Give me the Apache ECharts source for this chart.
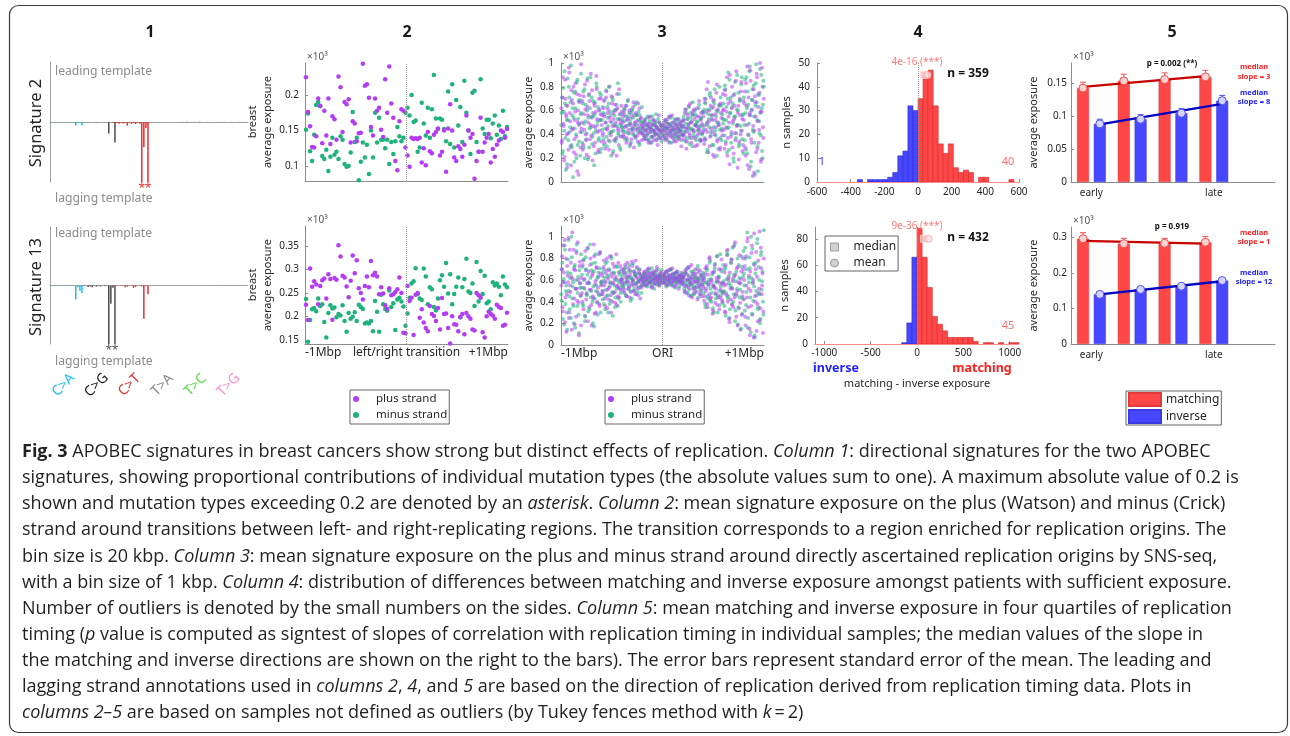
<!DOCTYPE html>
<html><head><meta charset="utf-8">
<script src="https://cdn.jsdelivr.net/npm/echarts@6/dist/echarts.min.js"></script>
<style>html,body{margin:0;padding:0;background:#fff}#c{width:1290px;height:736px}</style>
</head><body><div id="c"></div>
<script>
// ================= DATA =================
const mutationTypes = ['C>A','C>G','C>T','T>A','T>C','T>G'];
const bases = ['A','C','G','T'];
// directional signature profiles (96 types, negative = lagging template)
const sig2Profile = [
 -0.001,0,-0.001,0,-0.001,0,0,-0.001,0,-0.001,0,0,-0.012,-0.004,-0.002,-0.012,
 0,0,-0.001,0,0,0,-0.001,0,0,0,0,0,-0.038,0,-0.002,-0.068,
 -0.003,-0.006,-0.002,-0.005,-0.003,-0.012,-0.002,-0.006,-0.004,-0.007,-0.003,-0.006,-0.26,-0.083,-0.02,-0.26,
 0,-0.001,0,0,-0.001,0,0,0,0,-0.001,0,0,-0.002,0,0,-0.001,
 0.001,0,0.002,0,0,0.001,0,0,0.002,0,0,0,0.001,0,0,0,
 0,0.001,0,0,0.001,0,0,0.001,0,0,0,0.001,0,0,0.001,0
];
const sig13Profile = [
 -0.002,-0.001,0,-0.001,-0.001,0,-0.001,0,-0.002,0,-0.001,0,-0.048,-0.005,-0.018,-0.026,
 -0.001,0,-0.005,-0.003,-0.006,0,-0.004,-0.002,-0.003,0,-0.002,-0.001,-0.26,-0.062,-0.008,-0.26,
 -0.001,0,-0.002,0,-0.006,-0.004,0,-0.001,-0.008,-0.005,0,-0.001,-0.003,-0.114,-0.002,-0.03,
 0,-0.001,0,0,0,-0.001,0,0,-0.001,0,0,0,-0.001,0,0,0,
 0,0.001,0,0,0,0,0.001,0,0,0,0.001,0,0,0,0,0.001,
 0,0,0.001,0,0,0,0,0.001,0,0,0,0,0.001,0,0,0
];

// column 2: exposure per 20 kbp bin, -1Mbp .. +1Mbp (100 bins)
const p2Sig2Plus = [225,176,156,127,126,142,195,185,132,178,143,195,131,170,166,137,226,211,148,190,187,194,133,163,160,135,146,147,244,213,215,196,155,143,195,178,182,151,141,222,175,240,188,168,107,94,163,180,178,126,
 115,99,140,138,139,138,140,105,125,101,148,121,118,144,148,153,115,120,150,92,153,187,150,112,107,128,124,113,130,171,150,140,145,82,107,120,168,120,133,140,145,105,124,113,130,136,150,148,140,152];
const p2Sig2Minus = [151,174,121,107,144,186,190,184,114,110,123,93,113,140,116,120,110,142,137,103,99,100,119,176,134,140,80,106,133,112,130,89,150,112,175,133,168,137,137,125,137,103,134,117,135,155,142,135,140,175,
 182,171,200,162,164,120,126,189,160,143,182,140,180,228,167,152,167,165,152,135,205,131,215,126,193,157,183,134,220,175,150,117,203,206,134,120,222,153,145,165,165,139,160,171,144,157,138,178,142,155];
const p2Sig13Plus = [225,192,302,263,275,268,226,265,277,281,238,290,280,193,282,278,352,328,287,283,264,241,276,330,292,320,260,250,236,265,285,262,318,288,293,285,247,262,249,224,216,260,245,247,252,258,283,250,165,164,
 265,233,240,160,246,250,197,215,187,175,168,222,205,201,190,218,172,239,205,206,175,142,200,183,182,168,198,205,162,207,200,195,172,170,250,245,240,166,155,200,210,205,202,195,225,220,218,180,182,208];
const p2Sig13Minus = [237,146,192,215,218,211,238,222,226,188,155,207,224,217,219,198,205,202,224,190,167,207,195,199,209,190,225,220,216,185,187,185,190,168,233,210,167,246,226,216,212,255,220,228,171,236,240,232,221,180,
 206,240,270,275,303,248,238,235,302,285,226,262,258,220,213,238,277,288,263,314,249,290,226,248,263,283,198,262,280,323,253,250,270,222,316,232,297,248,287,228,232,215,273,266,270,263,245,285,268,262];
const p2TickLabels = ['-1Mbp','left/right transition','+1Mbp'];

// column 3: exposure (x 0.01 of 10^3) around SNS-seq origins, -1Mbp .. +1Mbp (two interleaved passes)
const p3Sig2Plus = [62,35,88,47,21,70,55,12,41,96,58,30,77,44,66,25,52,83,38,9,60,48,73,29,
 45,68,31,57,82,40,23,63,50,74,36,91,54,18,47,66,33,59,78,42,27,61,52,70,
 48,39,62,55,28,71,44,58,35,80,51,42,66,24,53,47,60,37,74,45,31,57,49,64,
 43,55,38,61,47,33,52,69,41,49,58,36,45,63,29,50,44,56,39,66,48,42,53,35,
 41,47,36,52,44,39,49,33,45,55,42,38,48,35,43,51,40,46,31,44,50,37,42,47,
 44,38,50,35,46,41,53,39,33,48,43,56,37,45,40,52,34,47,42,49,38,44,30,51,
 47,36,58,42,28,53,45,64,39,50,33,57,44,61,37,48,55,31,46,68,41,52,35,59,
 55,32,67,44,78,49,25,60,38,71,53,42,63,21,57,46,82,36,50,65,29,58,43,74,
 61,28,73,46,88,37,55,15,68,42,80,51,24,64,35,93,48,58,19,70,40,84,53,31,
 52,76,22,64,97,40,11,58,85,33,69,47,8,72,55,91,28,63,44,100,17,59,80,37];
const p3Sig2PlusB = [33,71,49,18,86,57,40,64,27,92,51,14,69,45,80,36,59,23,74,50,6,67,42,99,
 50,27,72,44,61,35,85,56,21,68,48,39,77,58,30,64,46,89,53,25,70,43,57,34,
 56,41,68,33,50,76,45,61,27,54,39,72,47,58,35,65,50,22,62,43,78,52,38,59,
 50,40,57,46,64,37,53,44,60,32,48,55,42,67,47,38,58,51,34,45,62,41,54,48,
 45,39,50,43,36,48,41,54,46,33,44,49,38,52,42,47,35,45,40,56,43,37,48,44,
 40,47,43,52,37,45,49,42,55,38,46,41,50,34,44,48,39,53,45,36,42,50,47,40,
 52,39,61,45,34,56,48,41,66,50,37,59,43,53,30,47,62,40,55,44,35,58,49,42,
 47,70,36,59,42,84,51,30,64,45,56,23,69,40,52,75,34,61,48,27,66,54,39,60,
 44,77,32,59,22,66,50,90,38,62,29,73,53,41,85,47,12,64,34,56,76,43,26,68,
 66,29,83,48,14,71,56,94,36,61,5,78,43,67,25,88,51,33,75,59,19,96,46,70];
const p3Sig2Minus = [48,71,26,59,93,37,64,15,52,80,42,67,31,56,4,75,45,62,20,86,53,34,69,57,
 58,33,76,49,20,65,41,87,54,29,62,46,71,38,55,14,67,43,80,51,35,60,25,73,
 52,63,36,57,45,77,30,54,66,41,59,22,50,69,43,56,34,61,47,83,39,53,27,48,
 46,38,59,51,42,64,35,55,48,30,53,44,60,40,57,49,37,67,45,52,33,56,43,50,
 45,40,51,38,47,43,55,36,49,42,46,33,52,44,39,48,57,41,45,37,50,43,47,40,
 42,48,37,45,51,40,46,34,49,43,54,39,44,47,36,50,41,45,38,53,43,48,35,46,
 40,52,46,34,58,43,49,63,37,54,45,30,56,42,60,48,38,51,44,65,36,53,47,41,
 44,61,35,70,50,27,57,46,75,39,62,52,31,66,43,55,22,59,48,80,37,64,45,53,
 66,39,78,52,25,70,46,86,58,33,63,49,17,74,55,41,90,60,30,68,47,82,36,57,
 71,35,58,88,24,65,49,97,13,60,78,42,55,6,83,67,30,74,51,95,39,62,20,85];
const p3Sig2MinusB = [58,24,79,43,66,10,52,87,35,71,46,98,29,62,54,17,76,40,84,31,68,49,22,91,
 42,66,29,78,51,36,60,19,73,45,88,55,32,68,41,57,24,83,48,63,37,75,52,28,
 44,58,31,69,50,38,63,47,80,34,56,42,71,26,60,48,36,65,53,41,74,29,57,46,
 52,43,62,36,55,47,68,41,58,50,33,61,45,54,39,65,48,56,42,59,31,51,46,63,
 42,49,37,53,44,40,47,35,51,45,38,55,43,48,41,50,36,46,53,39,44,48,34,47,
 46,39,52,43,36,49,45,55,41,47,33,50,44,38,53,42,48,37,45,51,40,47,43,39,
 55,42,49,61,37,53,46,32,58,44,51,67,39,48,57,35,50,43,62,47,34,54,40,59,
 58,37,66,48,25,61,53,73,42,56,31,68,46,78,39,60,50,28,64,44,71,35,57,49,
 52,81,34,63,45,92,27,58,71,40,66,20,55,84,37,61,48,75,32,69,43,88,56,24,
 48,86,27,62,76,39,93,56,17,69,44,81,33,64,99,52,9,73,41,58,90,26,65,80];
const p3Sig13Plus = [55,82,31,67,97,44,12,73,58,25,88,49,63,104,38,70,19,52,85,41,60,9,77,46,
 62,40,78,53,27,69,47,90,58,35,74,51,18,66,43,82,56,30,71,49,63,38,86,55,
 59,47,72,55,36,66,80,51,42,69,57,30,63,75,48,60,39,84,54,45,67,52,73,58,
 61,54,70,48,65,58,76,52,63,44,68,57,73,60,50,66,78,55,62,46,69,59,64,53,
 62,58,67,55,64,60,70,57,63,66,59,53,65,61,68,56,62,72,60,64,57,66,63,59,
 61,65,57,63,68,59,55,64,60,70,58,62,66,54,63,60,67,57,61,52,64,59,62,56,
 58,64,50,67,55,71,60,46,62,56,74,52,63,48,59,66,54,42,61,57,69,51,45,60,
 54,41,66,50,73,35,58,47,78,44,60,29,55,68,39,52,82,46,62,33,57,70,42,49,
 48,67,30,56,83,40,62,21,52,76,37,59,91,44,65,26,50,72,34,57,14,68,45,80,
 42,73,18,55,96,35,64,9,50,85,28,60,103,45,70,13,38,78,52,23,90,47,66,31];
const p3Sig13PlusB = [70,35,92,58,21,80,47,64,99,30,55,76,14,61,88,43,69,26,52,95,39,73,57,18,
 48,74,33,61,87,42,57,22,68,51,80,37,64,45,93,29,59,72,40,53,84,36,66,47,
 64,50,78,43,58,69,34,61,53,82,46,66,40,57,72,49,63,37,55,76,44,60,51,70,
 57,67,51,74,62,45,59,71,54,65,49,77,60,56,68,47,63,72,52,58,66,43,61,55,
 64,59,68,62,56,66,61,71,58,63,54,67,60,65,57,62,69,59,64,55,61,67,58,63,
 58,64,61,67,56,62,69,60,65,57,63,71,59,61,66,55,62,68,60,64,58,63,59,66,
 62,55,69,48,60,65,53,72,57,61,44,66,58,52,70,63,49,59,67,54,47,64,56,62,
 60,45,71,52,38,65,56,81,43,58,67,32,54,74,48,62,37,59,70,44,51,79,40,57,
 55,31,74,46,88,60,24,67,42,79,52,35,63,95,47,71,18,58,83,39,61,28,49,70,
 60,26,82,44,99,52,15,68,36,92,57,7,74,40,86,63,22,48,105,34,71,55,11,80];
const p3Sig13Minus = [47,70,24,61,92,38,55,14,79,50,33,66,100,43,58,20,74,52,87,36,63,11,57,45,
 53,72,36,60,22,81,48,65,31,57,93,44,69,40,54,17,76,50,61,28,67,46,85,58,
 56,42,70,62,33,51,77,46,64,38,58,82,49,27,67,55,44,73,60,36,53,65,48,61,
 60,49,67,56,72,45,63,58,52,69,41,62,55,75,50,64,57,47,66,59,53,70,61,48,
 60,65,56,63,59,68,54,62,66,58,61,71,57,64,52,60,67,63,58,62,55,65,61,69,
 63,58,66,61,54,68,60,64,57,62,70,56,65,59,63,53,61,66,58,64,60,57,67,62,
 57,63,49,66,54,60,72,51,58,45,64,56,68,47,61,53,59,70,44,62,55,50,65,58,
 52,64,38,58,71,45,55,80,41,61,48,34,67,53,75,43,59,30,63,50,84,46,57,39,
 59,36,72,48,87,43,64,25,55,79,38,61,47,93,32,68,52,19,74,44,57,82,29,63,
 66,32,80,49,104,25,58,71,12,62,89,41,54,7,76,46,98,35,60,20,83,51,68,28];
const p3Sig13MinusB = [41,76,58,19,88,50,30,67,97,45,62,25,81,54,36,72,16,60,93,48,28,69,53,84,
 65,38,79,52,26,70,46,89,57,33,62,50,75,20,68,43,84,55,39,63,47,71,30,58,
 50,67,38,59,75,45,63,30,70,54,41,80,57,48,66,35,61,52,72,43,58,68,40,55,
 64,53,70,58,46,67,61,55,74,50,62,43,59,68,52,65,57,71,49,60,66,54,63,56,
 62,58,66,61,55,64,59,69,57,63,60,54,67,62,58,65,61,56,70,59,63,57,64,60,
 60,65,58,62,67,56,63,59,69,61,55,64,60,66,57,62,68,59,63,54,61,65,58,63,
 60,52,66,57,70,48,63,55,59,68,46,61,54,65,50,62,57,73,53,60,47,64,56,67,
 48,62,35,57,69,43,60,76,52,40,65,55,30,71,47,58,82,44,63,37,54,68,49,74,
 50,70,27,61,84,45,57,33,76,53,90,40,65,22,59,46,80,35,62,51,15,72,43,87,
 55,90,37,70,16,62,81,44,100,29,58,75,9,66,50,94,33,72,47,24,86,59,40,106];
const p3TickLabels = ['-1Mbp','ORI','+1Mbp'];

// column 4: histograms of matching - inverse exposure
const p4Sig2BinStart = -600, p4Sig2BinWidth = 30;
const p4Sig2Counts = [0,0,0,0,0,0,0,0,1,0, 1,1,1,1,2,4,11,13,32,30, 35,44,47,32,16,12,16,6,4,5, 4,0,2,2,0,0,0,0,1,0];
const p4Sig13BinStart = -1100, p4Sig13BinWidth = 55;
const p4Sig13Counts = [0,0,0,0,0,0,0,0,0,0, 0,0,0,0,0,0,0,1,16,66, 88,66,43,21,15,10,5,5,5,5, 5,2,0,1,1,0,1,0,1,1];
const p4Medians = [36, 75];
const p4Means = [57, 125];
const p4MarkerHeights = [45, 80];
const p4PValues = ['4e-16 (***)', '9e-36 (***)'];
const p4SampleCounts = ['n = 359', 'n = 432'];
const p4OutliersLeft = ['1', ''];
const p4OutliersRight = ['40', '45'];

// column 5: exposure in replication timing quartiles
const timingLabels = ['early','','','late',''];
const p5Sig2Matching = [142,153,155,159];
const p5Sig2MatchingErr = [9,10,10,10];
const p5Sig2Inverse = [88,95,104,123];
const p5Sig2InverseErr = [7,7,7,8];
const p5Sig2FitMatching = [144,160];
const p5Sig2FitInverse = [87,118];
const p5Sig13Matching = [297,283,284,287];
const p5Sig13MatchingErr = [17,15,14,16];
const p5Sig13Inverse = [140,154,163,179];
const p5Sig13InverseErr = [5,5,5,5];
const p5Sig13FitMatching = [291,283];
const p5Sig13FitInverse = [140,177];
const p5PValues = ['p = 0.002 (**)', 'p = 0.919'];
const p5SlopesMatching = ['slope = 3', 'slope = 1'];
const p5SlopesInverse = ['slope = 8', 'slope = 12'];

const captionLines = [
 '{b|Fig. 3} APOBEC signatures in breast cancers show strong but distinct effects of replication. {i|Column 1}: directional signatures for the two APOBEC',
 'signatures, showing proportional contributions of individual mutation types (the absolute values sum to one). A maximum absolute value of 0.2 is',
 'shown and mutation types exceeding 0.2 are denoted by an {i|asterisk}. {i|Column 2}: mean signature exposure on the plus (Watson) and minus (Crick)',
 'strand around transitions between left- and right-replicating regions. The transition corresponds to a region enriched for replication origins. The',
 'bin size is 20 kbp. {i|Column 3}: mean signature exposure on the plus and minus strand around directly ascertained replication origins by SNS-seq,',
 'with a bin size of 1 kbp. {i|Column 4}: distribution of differences between matching and inverse exposure amongst patients with sufficient exposure.',
 'Number of outliers is denoted by the small numbers on the sides. {i|Column 5}: mean matching and inverse exposure in four quartiles of replication',
 'timing ({i|p} value is computed as signtest of slopes of correlation with replication timing in individual samples; the median values of the slope in',
 'the matching and inverse directions are shown on the right to the bars). The error bars represent standard error of the mean. The leading and',
 'lagging strand annotations used in {i|columns 2}, {i|4}, and {i|5} are based on the direction of replication derived from replication timing data. Plots in',
 '{i|columns 2\u20135} are based on samples not defined as outliers (by Tukey fences method with {i|k}\u2009=\u20092)'
];

// ================= STYLE / LAYOUT =================
const FONT = 'Noto Sans';
const CAPFONT = 'Open Sans';
const AX = '#8c8c8c';
const TXT = '#262626';
const PLUS = '#b53cf5', MINUS = '#1fb27b';
const RED = '#ff4747', BLUE = '#4747ff';
const typeColors = ['#1ebff0','#4a4a4a','#ee2c2c','#a8a8a8','#7bd862','#f5a0c8'];
const typeLabelColors = ['#1ebff0','#1a1a1a','#ee2c2c','#8a8a8a','#56e04a','#ff8fd0'];
const grids = [
 {left:50,top:62,width:198,height:120},
 {left:50,top:227,width:198,height:117},
 {left:305,top:63,width:203,height:118},
 {left:305,top:226,width:203,height:118},
 {left:561,top:63,width:203,height:119},
 {left:561,top:226,width:203,height:119},
 {left:817,top:63,width:202,height:119},
 {left:815,top:227,width:204,height:117},
 {left:1071,top:63,width:204,height:119},
 {left:1071,top:227,width:204,height:117}
];
const BARW = 12, BARGAP = 0.4, OFF = BARW * (1 + BARGAP) / 2;

const contexts = [];
mutationTypes.forEach(t => bases.forEach(a => bases.forEach(b => contexts.push(a + '[' + t + ']' + b))));

// ================= AXES =================
const xAxes = [], yAxes = [];
function lbl(o){ return Object.assign({color:TXT, fontFamily:FONT, fontSize:10}, o); }
[0,1].forEach(g => {
  xAxes.push({type:'category', gridIndex:g, data:contexts, axisLine:{show:true, onZero:true, lineStyle:{color:'#a0a0a0'}}, axisTick:{show:false}, axisLabel:{show:false}, splitLine:{show:false}});
  yAxes.push({type:'value', gridIndex:g, min:-0.2, max:0.2, axisLine:{show:true, lineStyle:{color:'#a0a0a0'}}, axisTick:{show:false}, axisLabel:{show:false}, splitLine:{show:false}});
});
function yVal(g, min, max, ticks, fmt, name, gap, margin){
  return {type:'value', gridIndex:g, min, max,
    axisLine:{show:true, onZero:false, lineStyle:{color:AX}},
    axisTick:{show:true, inside:true, length:3, customValues:ticks, lineStyle:{color:AX}},
    axisLabel:lbl({customValues:ticks, formatter:fmt, margin}),
    splitLine:{show:false},
    name, nameLocation:'middle', nameGap:gap,
    nameTextStyle:{fontFamily:FONT, fontSize:11, color:TXT, lineHeight:15}};
}
const f1000 = v => String(v/1000), f100 = v => String(v/100), fPlain = v => String(v);
[2,3].forEach(g => {
  const bottom = g === 3;
  xAxes.push({type:'value', gridIndex:g, min:-1, max:1,
    axisLine:{show:true, onZero:false, lineStyle:{color:AX}}, axisTick:{show:false}, splitLine:{show:false},
    axisLabel: bottom ? lbl({customValues:[-1,0,1], formatter:v => p2TickLabels[Math.round(v)+1], alignMinLabel:'left', alignMaxLabel:'right', fontSize:12, margin:3}) : {show:false}});
});
yAxes.push(yVal(2, 79, 245, [100,150,200], f1000, 'breast\naverage exposure', 28, 6));
yAxes.push(yVal(3, 141, 393, [150,200,250,300,350], f1000, 'breast\naverage exposure', 28, 6));
[4,5].forEach(g => {
  const bottom = g === 5;
  xAxes.push({type:'value', gridIndex:g, min:-1, max:1,
    axisLine:{show:true, onZero:false, lineStyle:{color:AX}}, axisTick:{show:false}, splitLine:{show:false},
    axisLabel: bottom ? lbl({customValues:[-1,0,1], formatter:v => p3TickLabels[Math.round(v)+1], alignMinLabel:'left', alignMaxLabel:'right', fontSize:12, margin:3}) : {show:false}});
});
yAxes.push(yVal(4, 0, 100, [0,20,40,60,80,100], f100, 'average exposure', 24, 7));
yAxes.push(yVal(5, 0, 110, [0,20,40,60,80,100], f100, 'average exposure', 24, 7));
xAxes.push({type:'value', gridIndex:6, min:-600, max:600, interval:200,
  axisLine:{show:true, onZero:false, lineStyle:{color:AX}}, axisTick:{show:true, inside:true, length:3, lineStyle:{color:AX}},
  axisLabel:lbl({margin:5, formatter:fPlain}), splitLine:{show:false}});
xAxes.push({type:'value', gridIndex:7, min:-1100, max:1100,
  axisLine:{show:true, onZero:false, lineStyle:{color:AX}}, axisTick:{show:true, inside:true, length:3, customValues:[-1000,-500,0,500,1000], lineStyle:{color:AX}},
  axisLabel:lbl({customValues:[-1000,-500,0,500,1000], margin:4, formatter:fPlain}), splitLine:{show:false}});
yAxes.push(yVal(6, 0, 50, [0,10,20,30,40,50], fPlain, 'n samples', 21, 7));
yAxes.push(yVal(7, 0, 89, [0,20,40,60,80], fPlain, 'n samples', 19, 7));
[8,9].forEach(g => {
  xAxes.push({type:'category', gridIndex:g, data:timingLabels,
    axisLine:{show:true, lineStyle:{color:AX}}, axisTick:{show:false}, splitLine:{show:false},
    axisLabel:lbl({interval:0, margin:6})});
});
yAxes.push(yVal(8, 0, 180, [0,50,100,150], f1000, 'average exposure', 30, 4));
yAxes.push(yVal(9, 0, 330, [0,100,200,300], f1000, 'average exposure', 30, 4));

// ================= SERIES =================
const series = [];
[[sig2Profile,0,'#ee2c2c'],[sig13Profile,1,'#555555']].forEach(([prof, g, starColor]) => {
  series.push({type:'bar', xAxisIndex:g, yAxisIndex:g, barWidth:1.5, silent:true,
    data: prof.map((v,i) => ({value:v, itemStyle:{color:typeColors[Math.floor(i/16)]}}))});
  series.push({type:'custom', xAxisIndex:g, yAxisIndex:g, silent:true, clip:false,
    data: prof.map((v,i) => [i, v]).filter(d => d[1] < -0.2),
    renderItem(p, api){
      const c = api.coord([api.value(0), -0.2]);
      return {type:'text', x:c[0], y:c[1] + 7, style:{text:'*', fill:starColor, fontSize:12, fontFamily:FONT, textAlign:'center', textVerticalAlign:'middle'}};
    }});
});
function binX(i, n, shift){ return -1 + 2 * (i + shift) / n; }
function scatter(name, arr, g, color, size, opacity, withLine, shift){
  const s = {type:'scatter', name, xAxisIndex:g, yAxisIndex:g, symbol:'circle', symbolSize:size, silent:true,
    itemStyle:{color, opacity}, data: arr.map((v,i) => [binX(i, arr.length, shift), v])};
  if (withLine) s.markLine = {silent:true, symbol:['none','none'], label:{show:false}, animation:false,
    lineStyle:{type:'dotted', color:'#9a9a9a', width:1}, data:[{xAxis:0}]};
  return s;
}
series.push(scatter('minus strand', p2Sig2Minus, 2, MINUS, 4.5, 1, true, 0.5));
series.push(scatter('plus strand', p2Sig2Plus, 2, PLUS, 4.5, 1, false, 0.5));
series.push(scatter('minus strand', p2Sig13Minus, 3, MINUS, 4.5, 1, true, 0.5));
series.push(scatter('plus strand', p2Sig13Plus, 3, PLUS, 4.5, 1, false, 0.5));
const P3S = 4, P3O = 0.55;
series.push(scatter('minus strand', p3Sig2Minus, 4, MINUS, P3S, P3O, true, 0.25));
series.push(scatter('plus strand', p3Sig2Plus, 4, PLUS, P3S, P3O, false, 0.25));
series.push(scatter('minus strand', p3Sig2MinusB, 4, MINUS, P3S, P3O, false, 0.75));
series.push(scatter('plus strand', p3Sig2PlusB, 4, PLUS, P3S, P3O, false, 0.75));
series.push(scatter('minus strand', p3Sig13Minus, 5, MINUS, P3S, P3O, true, 0.25));
series.push(scatter('plus strand', p3Sig13Plus, 5, PLUS, P3S, P3O, false, 0.25));
series.push(scatter('minus strand', p3Sig13MinusB, 5, MINUS, P3S, P3O, false, 0.75));
series.push(scatter('plus strand', p3Sig13PlusB, 5, PLUS, P3S, P3O, false, 0.75));
function hist(g, counts, start, width){
  return {type:'custom', xAxisIndex:g, yAxisIndex:g, silent:true,
    data: counts.map((c,i) => [start + i*width, start + (i+1)*width, c]).filter(d => d[2] > 0),
    encode:{x:[0,1], y:2},
    renderItem(p, api){
      const s = api.value(0), e = api.value(1), c = api.value(2);
      const a = api.coord([s, c]), b = api.coord([e, 0]);
      const neg = e <= 0;
      return {type:'rect', shape:{x:a[0], y:a[1], width:b[0]-a[0], height:b[1]-a[1]},
        style:{fill: neg ? BLUE : RED, stroke: neg ? '#2a2ad0' : '#d02a2a', lineWidth:0.6}};
    }};
}
series.push(hist(6, p4Sig2Counts, p4Sig2BinStart, p4Sig2BinWidth));
series.push(hist(7, p4Sig13Counts, p4Sig13BinStart, p4Sig13BinWidth));
[6,7].forEach((g,k) => {
  series.push({type:'scatter', name:'median', xAxisIndex:g, yAxisIndex:g, symbol:'rect', symbolSize:7, silent:true, z:5,
    itemStyle:{color:'#f7b9b9', borderColor:'#ffe0e0', borderWidth:1},
    data:[[p4Medians[k], p4MarkerHeights[k]]],
    markLine:{silent:true, symbol:['none','none'], label:{show:false}, animation:false,
      data:[{xAxis:0, lineStyle:{type:'dotted', color:'#9a9a9a', width:1}}, {yAxis:0, lineStyle:{type:'solid', color:'#ff8a8a', width:1}}]}});
  series.push({type:'scatter', name:'mean', xAxisIndex:g, yAxisIndex:g, symbol:'circle', symbolSize:7, silent:true, z:5,
    itemStyle:{color:'#ffdede', borderColor:'#f7a5a5', borderWidth:1},
    data:[[p4Means[k], p4MarkerHeights[k]]]});
});
function fit(g, f, side, color){
  return {type:'custom', xAxisIndex:g, yAxisIndex:g, silent:true, z:4,
    data:[[0, f[0], 3, f[1]]], encode:{x:[0,2], y:[1,3]},
    renderItem(p, api){
      const a = api.coord([api.value(0), api.value(1)]), b = api.coord([api.value(2), api.value(3)]);
      return {type:'line', shape:{x1:a[0]+side*OFF, y1:a[1], x2:b[0]+side*OFF, y2:b[1]}, style:{stroke:color, lineWidth:2.3}};
    }};
}
function err(g, vals, errs, side, color, fill){
  return {type:'custom', xAxisIndex:g, yAxisIndex:g, silent:true, z:5,
    data: vals.map((v,i) => [i, v, errs[i]]), encode:{x:0, y:1},
    renderItem(p, api){
      const i = api.value(0), v = api.value(1), e = api.value(2);
      const c = api.coord([i, v]), lo = api.coord([i, v - e]), hi = api.coord([i, v + e]);
      const x = c[0] + side*OFF;
      const st = {stroke:color, lineWidth:1};
      return {type:'group', children:[
        {type:'line', shape:{x1:x, y1:lo[1], x2:x, y2:hi[1]}, style:st},
        {type:'line', shape:{x1:x-3, y1:lo[1], x2:x+3, y2:lo[1]}, style:st},
        {type:'line', shape:{x1:x-3, y1:hi[1], x2:x+3, y2:hi[1]}, style:st},
        {type:'circle', shape:{cx:x, cy:c[1], r:4}, style:{fill, stroke:color, lineWidth:1}}
      ]};
    }};
}
[[8, p5Sig2Matching, p5Sig2MatchingErr, p5Sig2Inverse, p5Sig2InverseErr, p5Sig2FitMatching, p5Sig2FitInverse],
 [9, p5Sig13Matching, p5Sig13MatchingErr, p5Sig13Inverse, p5Sig13InverseErr, p5Sig13FitMatching, p5Sig13FitInverse]]
.forEach(([g, m, me, inv, ie, fm, fi]) => {
  series.push({type:'bar', name:'matching', xAxisIndex:g, yAxisIndex:g, barWidth:BARW, barGap:(BARGAP*100)+'%', silent:true,
    itemStyle:{color:RED, borderColor:'#e03a3a', borderWidth:0.5}, data:m});
  series.push({type:'bar', name:'inverse', xAxisIndex:g, yAxisIndex:g, barWidth:BARW, barGap:(BARGAP*100)+'%', silent:true,
    itemStyle:{color:BLUE, borderColor:'#3a3ae0', borderWidth:0.5}, data:inv});
  series.push(fit(g, fm, -1, '#c80000'));
  series.push(fit(g, fi, 1, '#0000c0'));
  series.push(err(g, m, me, -1, '#f05050', '#ffd2d2'));
  series.push(err(g, inv, ie, 1, '#5050f0', '#d4d4ff'));
});

// ================= TEXT / GRAPHIC =================
function T(text, x, y, o){
  o = o || {};
  return {type:'text', x, y, rotation:o.rot || 0, silent:true, z:100,
    style:{text, fill:o.color || TXT, fontSize:o.size || 11, fontFamily:o.family || FONT,
      fontWeight:o.weight || 'normal', fontStyle:'normal', textAlign:o.align || 'center', textVerticalAlign:'middle', rich:o.rich}};
}
const els = [];
els.push({type:'rect', silent:true, z:0, shape:{x:9.5, y:5.5, width:1278, height:727, r:9}, style:{fill:'none', stroke:'#3a3a3a', lineWidth:1.2}});
[['1',150],['2',407],['3',662],['4',918],['5',1172]].forEach(([t,x]) => els.push(T(t, x, 32, {size:16, weight:'bold', color:'#1a1a1a'})));
els.push(T('Signature 2', 36, 123, {size:16.5, rot:Math.PI/2, color:'#222'}));
els.push(T('Signature 13', 36, 287, {size:16.5, rot:Math.PI/2, color:'#222'}));
els.push(T('leading template', 55, 72, {size:12.2, align:'left', color:'#8c8c8c'}));
els.push(T('lagging template', 55, 199, {size:12.2, align:'left', color:'#8c8c8c'}));
els.push(T('leading template', 55, 234, {size:12.2, align:'left', color:'#8c8c8c'}));
els.push(T('lagging template', 55, 362, {size:12.2, align:'left', color:'#8c8c8c'}));
mutationTypes.forEach((t,k) => {
  const g = grids[1];
  const cx = g.left + g.width * (k + 0.5) / mutationTypes.length - 3;
  els.push(T(t, cx, 385, {size:14, rot:Math.PI/4, color:typeLabelColors[k]}));
});
[2,3,4,5,8,9].forEach(g => els.push(T('\u00d710\u00b3', grids[g].left + 2, grids[g].top - 6, {size:10, align:'left', color:'#555'})));
[6,7].forEach((g,k) => {
  const gr = grids[g];
  els.push(T(p4PValues[k], 917, gr.top - 1, {size:10, color:'#ff7b7b'}));
  els.push(T(p4SampleCounts[k], 968, gr.top + 11, {size:12, weight:'bold', color:'#111'}));
  if (p4OutliersLeft[k]) els.push(T(p4OutliersLeft[k], 822, k ? 326 : 162, {size:11, color:'#3b3bff'}));
  els.push(T(p4OutliersRight[k], 1008, k ? 326 : 162, {size:11, color:'#ff7070'}));
});
els.push(T('inverse', 836, 368, {size:12.5, weight:'bold', color:'#1f1fff'}));
els.push(T('matching', 982, 368, {size:12.5, weight:'bold', color:'#ff2020'}));
els.push(T('matching - inverse exposure', 917, 384, {size:11}));
[8,9].forEach((g,k) => {
  const gr = grids[g];
  els.push(T(p5PValues[k], 1172, gr.top + 1 - k, {size:8, weight:'bold', color:'#111'}));
  const ym = k ? [233,242,273,282] : [67,77,93,102];
  els.push(T('median', 1254, ym[0], {size:7.5, weight:'bold', color:'#ff2020'}));
  els.push(T(p5SlopesMatching[k], 1254, ym[1], {size:7.5, weight:'bold', color:'#ff2020'}));
  els.push(T('median', 1254, ym[2], {size:7.5, weight:'bold', color:'#2020ff'}));
  els.push(T(p5SlopesInverse[k], 1254, ym[3], {size:7.5, weight:'bold', color:'#2020ff'}));
});
const capColor = '#231f20', capSize = 18;
const capRich = {
  n:{fontFamily:CAPFONT, fontSize:capSize, fill:capColor},
  b:{fontFamily:CAPFONT, fontSize:capSize, fill:capColor, fontWeight:'bold'},
  i:{fontFamily:CAPFONT, fontSize:capSize, fill:capColor, fontStyle:'italic'}
};
captionLines.forEach((line, k) => {
  els.push(T(line, 22, 452 + k * 26.1, {size:capSize, family:CAPFONT, align:'left', color:capColor, rich:capRich}));
});

// ================= OPTION =================
const legendText = {fontFamily:FONT, fontSize:11.5, color:TXT, lineHeight:14};
const squareIcon = 'path://M0,0L10,0L10,10L0,10Z';
const option = {
  animation:false,
  backgroundColor:'#ffffff',
  grid: grids.map(g => Object.assign({outerBoundsMode:'none', containLabel:false}, g)),
  xAxis: xAxes,
  yAxis: yAxes,
  legend: [
    {left:350, top:390, orient:'vertical', selectedMode:false, itemWidth:30, itemHeight:6, itemGap:2, padding:[2,2,2,3],
     borderColor:'#666', borderWidth:1, textStyle:legendText,
     data:[{name:'plus strand', icon:'circle'}, {name:'minus strand', icon:'circle'}]},
    {left:605, top:390, orient:'vertical', selectedMode:false, itemWidth:30, itemHeight:6, itemGap:2, padding:[2,2,2,3],
     borderColor:'#666', borderWidth:1, textStyle:legendText,
     data:[{name:'plus strand', icon:'circle'}, {name:'minus strand', icon:'circle'}]},
    {left:825, top:236, orient:'vertical', selectedMode:false, itemWidth:28, itemHeight:8, itemGap:2, padding:[4,2,1,5], symbolKeepAspect:true,
     borderColor:'#666', borderWidth:1, textStyle:Object.assign({}, legendText, {fontSize:12}),
     data:[{name:'median', icon:squareIcon, itemStyle:{color:'#c4c4c4', borderColor:'#8a8a8a', borderWidth:1}},
           {name:'mean', icon:'circle', itemStyle:{color:'#c4c4c4', borderColor:'#8a8a8a', borderWidth:1}}]},
    {left:1126, top:391, orient:'vertical', selectedMode:false, itemWidth:32, itemHeight:13, symbolKeepAspect:false, itemGap:2, padding:[1,2,1,2],
     borderColor:'#666', borderWidth:1, textStyle:Object.assign({}, legendText, {fontSize:12}),
     data:[{name:'matching', icon:'rect'}, {name:'inverse', icon:'rect'}]}
  ],
  series,
  graphic:{elements:els}
};
const chart = echarts.init(document.getElementById('c'), null, {renderer:'canvas', width:1290, height:736});
chart.setOption(option);
</script>
</body></html>
